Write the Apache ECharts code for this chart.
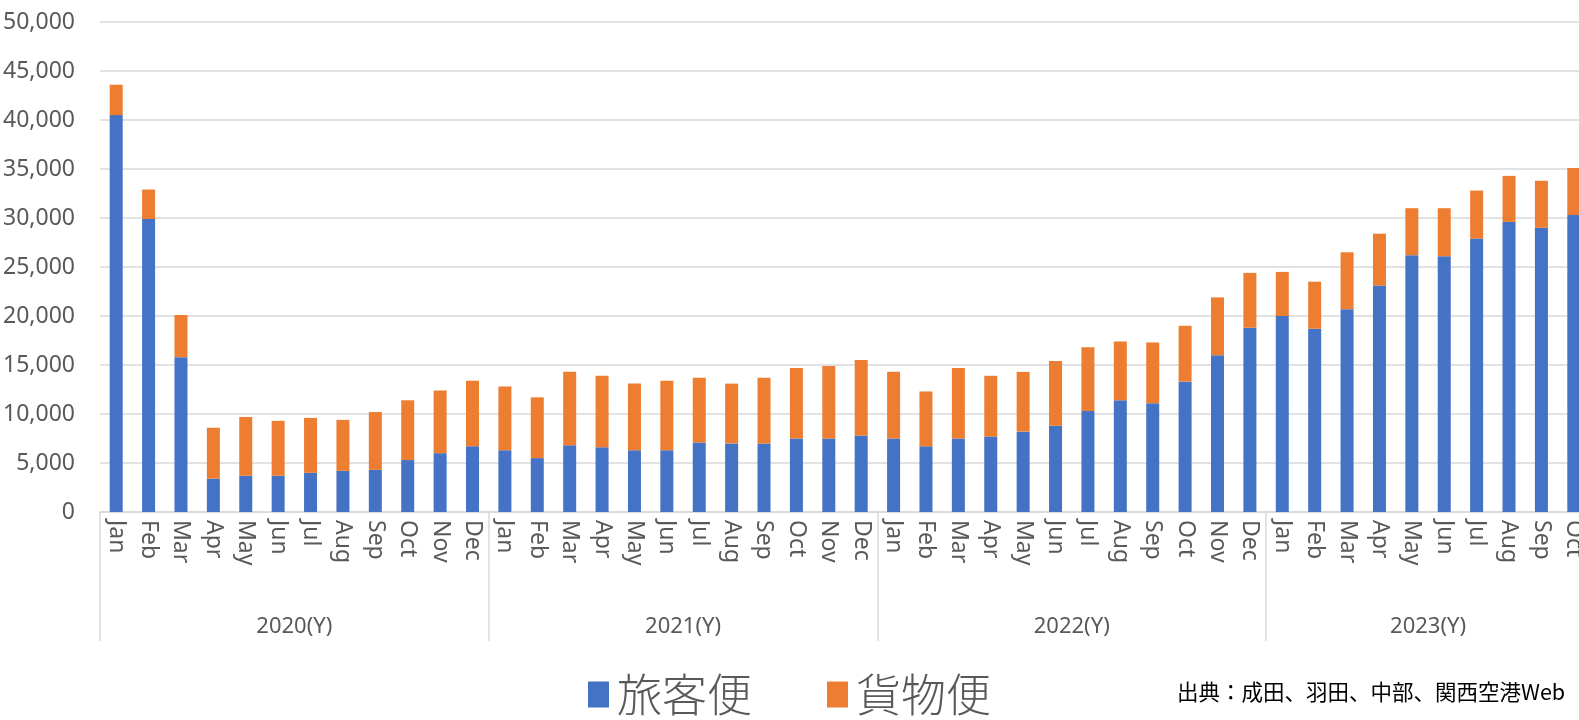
<!DOCTYPE html>
<html>
<head>
<meta charset="utf-8">
<script src="https://cdn.jsdelivr.net/npm/echarts@6/dist/echarts.min.js"></script>
<style>
html,body{margin:0;padding:0;background:#fff;overflow:hidden;}
#chart{width:1579px;height:720px;}
</style>
</head>
<body>
<div id="chart"></div>
<script>
// ---- data ----
const monthNames = ['Jan','Feb','Mar','Apr','May','Jun','Jul','Aug','Sep','Oct','Nov','Dec'];
const yearLabels = ['2020(Y)','2021(Y)','2022(Y)','2023(Y)'];
const monthsPerYear = [12, 12, 12, 10];
const passenger2020 = [40500,29900,15800,3400,3700,3700,4000,4200,4300,5300,6000,6700];
const cargo2020     = [3100,3000,4300,5200,6000,5600,5600,5200,5900,6100,6400,6700];
const passenger2021 = [6300,5500,6800,6600,6300,6300,7100,7000,7000,7500,7500,7800];
const cargo2021     = [6500,6200,7500,7300,6800,7100,6600,6100,6700,7200,7400,7700];
const passenger2022 = [7500,6700,7500,7700,8200,8800,10300,11400,11100,13300,16000,18800];
const cargo2022     = [6800,5600,7200,6200,6100,6600,6500,6000,6200,5700,5900,5600];
const passenger2023 = [20000,18700,20700,23100,26200,26100,27900,29600,29000,30300];
const cargo2023     = [4500,4800,5800,5300,4800,4900,4900,4700,4800,4800];
const seriesNames = ['旅客便','貨物便'];
const yTicks = {min: 0, max: 50000, interval: 5000};
const sourceText = '出典：成田、羽田、中部、関西空港Web';

// ---- build ----
const categories = [];
monthsPerYear.forEach(n => { for (let i = 0; i < n; i++) categories.push(monthNames[i]); });
const passenger = [].concat(passenger2020, passenger2021, passenger2022, passenger2023);
const cargo = [].concat(cargo2020, cargo2021, cargo2022, cargo2023);

const N = categories.length;
const yearAxisData = new Array(N + 1).fill('');
const yearStarts = {};
let start = 0;
monthsPerYear.forEach((n, k) => {
  yearStarts[start] = true;
  yearAxisData[start + n / 2] = yearLabels[k];
  start += n;
});

const gray = '#595959';
const gridLine = '#d9d9d9';
const gridPos = {left: 100, width: 1490, top: 22, bottom: 208, containLabel: false, outerBoundsMode: 'none'};

const chart = echarts.init(document.getElementById('chart'), null, {renderer: 'canvas'});
chart.setOption({
  animation: false,
  backgroundColor: '#fff',
  grid: [Object.assign({}, gridPos), Object.assign({}, gridPos)],
  legend: {
    data: seriesNames,
    left: 583, top: 667,
    icon: 'rect',
    itemWidth: 21, itemHeight: 26,
    itemGap: 75,
    textStyle: {fontSize: 45, fontWeight: 300, color: gray, fontFamily: 'Noto Sans CJK JP', padding: [0, 0, 0, 3]}
  },
  xAxis: [{
    type: 'category',
    gridIndex: 0,
    data: categories,
    axisLine: {lineStyle: {color: gridLine, width: 1.5}},
    axisTick: {show: false},
    axisLabel: {rotate: -90, interval: 0, margin: 8, fontSize: 23, color: gray, fontFamily: 'Noto Sans'}
  }, {
    type: 'category',
    gridIndex: 1,
    data: yearAxisData,
    boundaryGap: false,
    position: 'bottom',
    axisLine: {show: false},
    axisTick: {show: true, length: 129, interval: (i) => !!yearStarts[i], lineStyle: {color: gridLine, width: 1.5}},
    axisLabel: {interval: 0, margin: 104, fontSize: 22, color: gray, fontFamily: 'Noto Sans'}
  }],
  yAxis: [{
    type: 'value',
    gridIndex: 0,
    min: yTicks.min, max: yTicks.max, interval: yTicks.interval,
    axisLine: {show: false},
    axisTick: {show: false},
    splitLine: {lineStyle: {color: gridLine, width: 1.5}},
    axisLabel: {margin: 25, fontSize: 23, color: gray, fontFamily: 'Noto Sans',
      formatter: v => v.toLocaleString('en-US')}
  }, {
    type: 'value', gridIndex: 1, show: false, min: 0, max: 1
  }],
  series: [{
    name: seriesNames[0], type: 'bar', stack: 'total', xAxisIndex: 0, yAxisIndex: 0,
    data: passenger, barWidth: 13, itemStyle: {color: '#4472C4'}
  }, {
    name: seriesNames[1], type: 'bar', stack: 'total', xAxisIndex: 0, yAxisIndex: 0,
    data: cargo, barWidth: 13, itemStyle: {color: '#ED7D31'}
  }],
  graphic: [{
    type: 'text', left: 1177, top: 681,
    style: {text: sourceText, fontSize: 21.5, fill: '#000', fontFamily: 'Noto Sans CJK JP'}
  }]
});
</script>
</body>
</html>
